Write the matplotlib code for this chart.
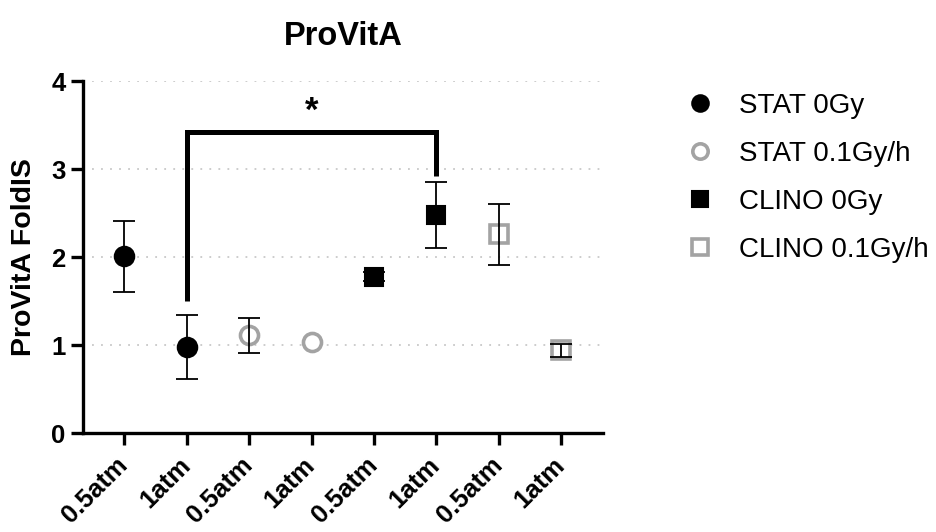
import matplotlib
matplotlib.use("Agg")
import matplotlib.pyplot as plt
from matplotlib.lines import Line2D

plt.rcParams['font.family'] = ['Liberation Sans', 'DejaVu Sans']

tick_labels = ["0.5atm", "1atm", "0.5atm", "1atm", "0.5atm", "1atm", "0.5atm", "1atm"]
series_names = ["STAT 0Gy", "STAT 0.1Gy/h", "CLINO 0Gy", "CLINO 0.1Gy/h"]
series_pos = [[0, 1], [2, 3], [4, 5], [6, 7]]
series_mean = [[2.01, 0.98], [1.11, 1.04], [1.78, 2.48], [2.26, 0.94]]
series_err = [[0.40, 0.36], [0.20, 0.0], [0.05, 0.375], [0.35, 0.07]]
sig_pair = [1, 5]
sig_label = "*"

gray = "#A3A3A3"
styles = [
    dict(marker='o', mfc='black', mec='black', ms=14, mew=1.5),
    dict(marker='o', mfc='white', mec=gray, ms=13, mew=2.6),
    dict(marker='s', mfc='black', mec='black', ms=13, mew=1.5),
    dict(marker='s', mfc='white', mec=gray, ms=13, mew=2.6),
]

fig = plt.figure(figsize=(9.37, 5.32), dpi=100)
ax = fig.add_axes([0.0886, 0.186, 0.555, 0.661])

for pos, m, e, st in zip(series_pos, series_mean, series_err, styles):
    ax.plot(pos, m, linestyle='none', zorder=3, **st)
    keep = [i for i in range(len(pos)) if e[i] > 0]
    if keep:
        ax.errorbar([pos[i] for i in keep], [m[i] for i in keep],
                    yerr=[e[i] for i in keep], fmt='none', ecolor='black',
                    elinewidth=1.3, capsize=8, capthick=1.3, zorder=4)

ax.set_xlim(-0.66, 7.67)
ax.set_ylim(0, 4)
ax.set_yticks([0, 1, 2, 3, 4])
ax.set_xticks(range(len(tick_labels)))
ax.set_xticklabels(tick_labels, rotation=45, ha='right', va='center',
                   rotation_mode='anchor', fontsize=18.5, fontweight='bold')
for lab in ax.get_yticklabels():
    lab.set_fontsize(18.5)
    lab.set_fontweight('bold')

for y in [1, 2, 3, 4]:
    ax.axhline(y, color='#C8C8C8', lw=1.3, linestyle=(0, (1, 4)), zorder=1)

for s in ['top', 'right']:
    ax.spines[s].set_visible(False)
for s in ['left', 'bottom']:
    ax.spines[s].set_linewidth(2.4)
ax.tick_params(axis='both', width=2.4, length=8.5, pad=4)
ax.tick_params(axis='x', pad=12)

ax.set_title("ProVitA", fontsize=23.5, fontweight='bold', pad=26)
ax.set_ylabel("ProVitA FoldIS", fontsize=20.5, fontweight='bold', labelpad=10)

# significance bracket
x1, x2 = sig_pair
ax.plot([x1, x1, x2, x2], [1.50, 3.42, 3.42, 2.92], color='black', lw=3.6,
        solid_joinstyle='miter', solid_capstyle='butt', zorder=5, clip_on=False)
ax.text((x1 + x2) / 2, 3.47, sig_label, ha='center', va='bottom', fontsize=25,
        fontweight='bold')

handles = [Line2D([], [], linestyle='none', **st) for st in styles]
for h, st in zip(handles, styles):
    h.set_markersize(st['ms'] * 0.85)
leg = fig.legend(handles, series_names, loc='upper left', bbox_to_anchor=(0.706, 0.872),
                 frameon=False, fontsize=20, handletextpad=0.9, labelspacing=0.79,
                 handlelength=1.0)

fig.savefig("out.png", dpi=100)
